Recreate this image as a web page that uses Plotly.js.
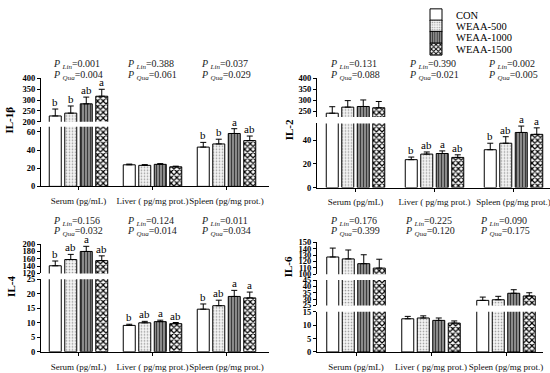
<!DOCTYPE html>
<html><head><meta charset="utf-8">
<script src="https://cdn.plot.ly/plotly-3.0.1.min.js"></script>
<style>html,body{margin:0;padding:0;background:#fff}</style>
</head><body><div id="chart" style="width:550px;height:373px"></div>
<script>
// ---------- data ----------
const categories = ['Serum (pg/mL)', 'Liver ( pg/mg prot.)', 'Spleen (pg/mg prot.)'];
const groupNames = ['CON', 'WEAA-500', 'WEAA-1000', 'WEAA-1500'];

// IL-1β
const il1b_CON = [227, 23.8, 43.3];
const il1b_500 = [240, 23.2, 46.8];
const il1b_1000 = [283, 24.3, 58.3];
const il1b_1500 = [318, 21.6, 50.5];
const il1b_err_CON = [32, 0.8, 5.2];
const il1b_err_500 = [33, 0.8, 5.2];
const il1b_err_1000 = [31, 0.8, 5.3];
const il1b_err_1500 = [32, 0.7, 5.0];
const il1b_let_CON = ['b', '', 'b'];
const il1b_let_500 = ['b', '', 'b'];
const il1b_let_1000 = ['ab', '', 'a'];
const il1b_let_1500 = ['a', '', 'ab'];
const il1b_pLin = ['0.001', '0.388', '0.037'];
const il1b_pQua = ['0.004', '0.061', '0.029'];

// IL-2
const il2_CON = [240, 23.6, 32];
const il2_500 = [268, 28.3, 37.5];
const il2_1000 = [271, 28.8, 46.6];
const il2_1500 = [265, 25.5, 45];
const il2_err_CON = [30, 2.2, 5.5];
const il2_err_500 = [30, 1.8, 5.5];
const il2_err_1000 = [30, 2.2, 5.4];
const il2_err_1500 = [29, 2.2, 5.5];
const il2_let_CON = ['', 'b', 'b'];
const il2_let_500 = ['', 'ab', 'ab'];
const il2_let_1000 = ['', 'a', 'a'];
const il2_let_1500 = ['', 'ab', 'a'];
const il2_pLin = ['0.131', '0.390', '0.002'];
const il2_pQua = ['0.088', '0.021', '0.005'];

// IL-4
const il4_CON = [141, 9.1, 14.7];
const il4_500 = [158, 10.0, 15.9];
const il4_1000 = [180, 10.4, 19.1];
const il4_1500 = [155, 9.7, 18.6];
const il4_err_CON = [13, 0.4, 1.8];
const il4_err_500 = [14, 0.5, 1.9];
const il4_err_1000 = [14, 0.5, 2.1];
const il4_err_1500 = [13, 0.4, 2.0];
const il4_let_CON = ['b', 'b', 'b'];
const il4_let_500 = ['ab', 'ab', 'ab'];
const il4_let_1000 = ['a', 'a', 'a'];
const il4_let_1500 = ['ab', 'ab', 'a'];
const il4_pLin = ['0.156', '0.124', '0.011'];
const il4_pQua = ['0.032', '0.014', '0.034'];

// IL-6
const il6_CON = [127, 12.4, 29];
const il6_500 = [124, 12.7, 29.5];
const il6_1000 = [116.5, 11.8, 34.6];
const il6_1500 = [109.5, 10.8, 32.5];
const il6_err_CON = [14, 0.9, 2.6];
const il6_err_500 = [14, 0.8, 2.7];
const il6_err_1000 = [14, 0.9, 2.8];
const il6_err_1500 = [14, 0.8, 2.5];
const il6_let_CON = ['', '', ''];
const il6_let_500 = ['', '', ''];
const il6_let_1000 = ['', '', ''];
const il6_let_1500 = ['', '', ''];
const il6_pLin = ['0.176', '0.225', '0.090'];
const il6_pQua = ['0.399', '0.120', '0.175'];

// ---------- layout geometry (pixels of the 550x373 figure) ----------
const W = 550, H = 373;
const SERIF = 'Liberation Serif, Times New Roman, serif';
const pitchPx = 15.5, barPx = 12;
const py = v => (H - v) / H;
const px = v => v / W;

const patterns = [
  {shape: '', bgcolor: '#ffffff'},
  {shape: '.', fgcolor: '#9a9a9a', bgcolor: '#f4f4f4', size: 3, solidity: 0.25},
  {shape: '|', fgcolor: '#3a3a3a', bgcolor: '#8a8a8a', size: 3, solidity: 0.35},
  {shape: 'x', fgcolor: '#000000', bgcolor: '#ffffff', size: 4, solidity: 0.5}
];

const panels = [
  {title: 'IL-1β', titlePos: [9, 115],
   vals: [il1b_CON, il1b_500, il1b_1000, il1b_1500],
   errs: [il1b_err_CON, il1b_err_500, il1b_err_1000, il1b_err_1500],
   lets: [il1b_let_CON, il1b_let_500, il1b_let_1000, il1b_let_1500],
   pLin: il1b_pLin, pQua: il1b_pQua, pY: [58, 68.5],
   xl: 41, xr: 269, c0: 78.5, S: 74,
   segs: [{range: [0, 65.8], pix: [182.3, 121.3], dtick: 20},
          {range: [200, 400], pix: [116.3, 72], dtick: 50}]},
  {title: 'IL-2', titlePos: [289, 125],
   vals: [il2_CON, il2_500, il2_1000, il2_1500],
   errs: [il2_err_CON, il2_err_500, il2_err_1000, il2_err_1500],
   lets: [il2_let_CON, il2_let_500, il2_let_1000, il2_let_1500],
   pLin: il2_pLin, pQua: il2_pQua, pY: [58, 68.5],
   xl: 317, xr: 550, c0: 355.5, S: 79,
   segs: [{range: [0, 54.2], pix: [183.5, 118], dtick: 20},
          {range: [223, 400], pix: [111.3, 72], dtick: 50}]},
  {title: 'IL-4', titlePos: [11, 285],
   vals: [il4_CON, il4_500, il4_1000, il4_1500],
   errs: [il4_err_CON, il4_err_500, il4_err_1000, il4_err_1500],
   lets: [il4_let_CON, il4_let_500, il4_let_1000, il4_let_1500],
   pLin: il4_pLin, pQua: il4_pQua, pY: [218, 228.5],
   xl: 41, xr: 269, c0: 78.5, S: 74,
   segs: [{range: [0, 25], pix: [351.3, 277.3], dtick: 5},
          {range: [120, 200], pix: [271.3, 241.3], dtick: 20}]},
  {title: 'IL-6', titlePos: [288, 265],
   vals: [il6_CON, il6_500, il6_1000, il6_1500],
   errs: [il6_err_CON, il6_err_500, il6_err_1000, il6_err_1500],
   lets: [il6_let_CON, il6_let_500, il6_let_1000, il6_let_1500],
   pLin: il6_pLin, pQua: il6_pQua, pY: [218, 228.5],
   xl: 317, xr: 543, c0: 356, S: 75,
   segs: [{range: [0, 15], pix: [351.5, 310.5], dtick: 5},
          {range: [25, 45], pix: [304, 278], dtick: 5},
          {range: [100, 150], pix: [272, 239.5], dtick: 10}]}
];

const data = [];
const layout = {
  width: W, height: H, autosize: false,
  margin: {l: 0, r: 0, t: 0, b: 0},
  paper_bgcolor: '#fff', plot_bgcolor: 'rgba(0,0,0,0)',
  barmode: 'overlay', showlegend: true,
  font: {family: SERIF, color: '#000'},
  annotations: []
};

const legendRows = [7, 18.5, 30, 42];
groupNames.forEach((g, j) => {
  const key = j === 0 ? 'legend' : 'legend' + (j + 1);
  layout[key] = {x: px(416), y: py(legendRows[j]), xanchor: 'left', yanchor: 'middle',
    bgcolor: 'rgba(0,0,0,0)', borderwidth: 0, itemwidth: 30,
    font: {family: SERIF, size: 10.5, color: '#000'}};
});

let yCount = 0;
panels.forEach((p, pi) => {
  const xName = 'x' + (pi === 0 ? '' : pi + 1);
  const xKey = 'xaxis' + (pi === 0 ? '' : pi + 1);
  const segAxes = p.segs.map(s => {
    yCount += 1;
    return {name: 'y' + (yCount === 1 ? '' : yCount), key: 'yaxis' + (yCount === 1 ? '' : yCount), seg: s};
  });
  layout[xKey] = {
    type: 'category', domain: [px(p.xl), px(p.xr)], anchor: segAxes[0].name,
    range: [-(p.c0 - p.xl) / p.S, (p.xr - p.c0) / p.S],
    showline: true, linecolor: '#000', linewidth: 1, ticks: 'outside', ticklen: 3, tickcolor: '#000',
    showgrid: false, zeroline: false, automargin: false, tickangle: 0, ticklabelstandoff: 3,
    tickfont: {family: SERIF, size: 9, color: '#111'}
  };
  segAxes.forEach(a => {
    layout[a.key] = {
      domain: [py(a.seg.pix[0]), py(a.seg.pix[1])], range: a.seg.range, anchor: xName,
      dtick: a.seg.dtick, tick0: 0, showline: true, linecolor: '#000', linewidth: 1,
      ticks: 'outside', ticklen: 3, tickcolor: '#000', showgrid: false, zeroline: false,
      automargin: false, tickfont: {family: SERIF, size: 8.5, color: '#000', weight: 'bold'}
    };
  });
  const width = barPx / p.S;
  p.vals.forEach((vals, j) => {
    const offset = ((j - 2) * pitchPx + (pitchPx - barPx) / 2) / p.S;
    segAxes.forEach((a, si) => {
      const tr = {
        type: 'bar', x: categories, y: vals, xaxis: xName, yaxis: a.name,
        name: groupNames[j], offset: offset, width: width,
        marker: {color: patterns[j].bgcolor, line: {color: '#000', width: 1},
                 pattern: patterns[j]},
        error_y: {type: 'data', symmetric: false, array: p.errs[j], arrayminus: [0, 0, 0],
                  color: '#000', thickness: 1, width: 3},
        showlegend: pi === 0 && si === 0, hoverinfo: 'skip'
      };
      if (pi === 0 && si === 0) tr.legend = j === 0 ? 'legend' : 'legend' + (j + 1);
      data.push(tr);
    });
    // significance letters
    p.lets[j].forEach((t, i) => {
      if (!t) return;
      const top = vals[i] + p.errs[j][i];
      let ax = segAxes[0];
      segAxes.forEach(a => { if (top >= a.seg.range[0]) ax = a; });
      layout.annotations.push({
        text: t, x: categories[i], y: top, xref: xName, yref: ax.name,
        xshift: (j - 1.5) * pitchPx, yanchor: 'bottom', xanchor: 'center', showarrow: false,
        yshift: -1, font: {family: SERIF, size: 11, color: '#000'}
      });
    });
  });
  // P values
  categories.forEach((c, i) => {
    layout.annotations.push({
      text: '<i>P</i> <sub><i>Lin</i></sub>=' + p.pLin[i], x: c, xref: xName, xshift: -28,
      y: py(p.pY[0]), yref: 'paper', xanchor: 'left', yanchor: 'middle', showarrow: false,
      font: {family: SERIF, size: 10, color: '#222'}
    });
    layout.annotations.push({
      text: '<i>P</i> <sub><i>Qua</i></sub>=' + p.pQua[i], x: c, xref: xName, xshift: -28,
      y: py(p.pY[1]), yref: 'paper', xanchor: 'left', yanchor: 'middle', showarrow: false,
      font: {family: SERIF, size: 10, color: '#222'}
    });
  });
  // y title
  layout.annotations.push({
    text: '<b>' + p.title + '</b>', x: px(p.titlePos[0]), y: py(p.titlePos[1]),
    xref: 'paper', yref: 'paper', textangle: -90, showarrow: false,
    xanchor: 'center', yanchor: 'middle', font: {family: SERIF, size: 11, color: '#000'}
  });
});

Plotly.newPlot('chart', data, layout, {staticPlot: true, displayModeBar: false});
</script></body></html>
